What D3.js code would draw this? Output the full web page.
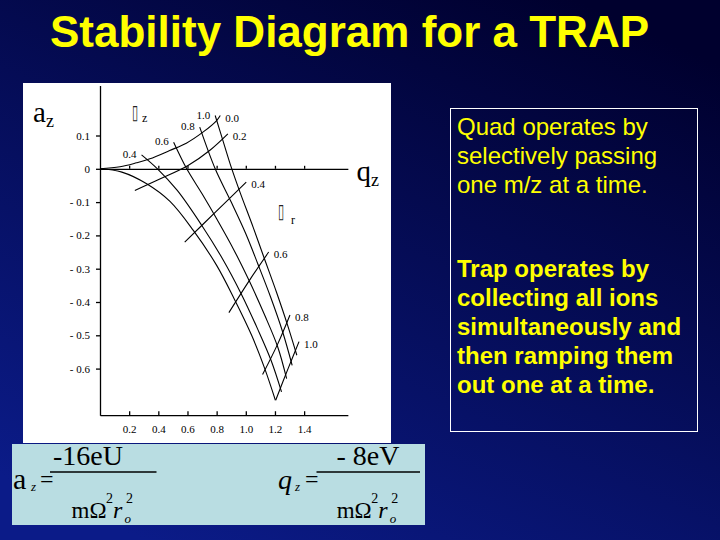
<!DOCTYPE html>
<html><head><meta charset="utf-8">
<script src="https://cdn.jsdelivr.net/npm/d3@7"></script>
<style>html,body{margin:0;padding:0;background:#000033;} svg{display:block}</style>
</head><body><svg id="c" width="720" height="540"></svg>
<script>
// ---- data ----
const titleText = "Stability Diagram for a TRAP";
const qTicks = [0.2, 0.4, 0.6, 0.8, 1.0, 1.2, 1.4];
const qTickLabels = ["0.2", "0.4", "0.6", "0.8", "1.0", "1.2", "1.4"];
const aTicks = [0.1, 0, -0.1, -0.2, -0.3, -0.4, -0.5, -0.6];
const aTickLabels = ["0.1", "0", "- 0.1", "- 0.2", "- 0.3", "- 0.4", "- 0.5", "- 0.6"];

// iso-beta_z lines [qz, az]
const betaZ00 = [[0,0],[0.15,-0.01],[0.32,-0.045],[0.48,-0.098],[0.64,-0.185],[0.80,-0.29],[0.92,-0.39],[1.04,-0.50],[1.13,-0.6],[1.203,-0.695]];
const betaZ04 = [[0.285,0.042],[0.394,0],[0.53,-0.065],[0.695,-0.168],[0.84,-0.27],[0.968,-0.375],[1.08,-0.48],[1.173,-0.575],[1.245,-0.67]];
const betaZ06 = [[0.505,0.08],[0.595,0],[0.70,-0.075],[0.80,-0.15],[0.92,-0.245],[1.025,-0.338],[1.13,-0.44],[1.219,-0.535],[1.28,-0.63]];
const betaZ08 = [[0.684,0.125],[0.79,0],[0.90,-0.10],[1.0,-0.195],[1.082,-0.285],[1.17,-0.385],[1.253,-0.49],[1.318,-0.59]];
const betaZ10 = [[0.79,0.16],[0.85,0.075],[0.90,0.005],[0.96,-0.07],[1.05,-0.175],[1.121,-0.262],[1.21,-0.37],[1.287,-0.47],[1.35,-0.56]];
const betaZLabels = ["", "0.4", "0.6", "0.8", "1.0"];

// iso-beta_r lines [qz, az]
const betaR00 = [[0,0],[0.137,0.006],[0.25,0.018],[0.342,0.030],[0.478,0.055],[0.592,0.077],[0.706,0.110],[0.80,0.145],[0.825,0.16]];
const betaR02 = [[0.239,-0.065],[0.399,-0.033],[0.604,0.010],[0.752,0.055],[0.877,0.105]];
const betaR04 = [[0.581,-0.220],[0.797,-0.128],[1.003,-0.040]];
const betaR06 = [[0.884,-0.432],[1.025,-0.335],[1.157,-0.250]];
const betaR08 = [[1.115,-0.618],[1.22,-0.525],[1.303,-0.439]];
const betaR10 = [[1.205,-0.695],[1.29,-0.60],[1.365,-0.519]];
const betaRLabels = ["0.0", "0.2", "0.4", "0.6", "0.8", "1.0"];

const quadLines = ["Quad operates by", "selectively passing", "one m/z at a time."];
const trapLines = ["Trap operates by", "collecting all ions", "simultaneously and", "then ramping them", "out one at a time."];

// ---- drawing ----
const svg = d3.select("#c");
const defs = svg.append("defs");
const grad = defs.append("linearGradient").attr("id","bg").attr("x1",0.8).attr("y1",0).attr("x2",0.2).attr("y2",1);
grad.append("stop").attr("offset","0%").attr("stop-color","#00002e");
grad.append("stop").attr("offset","100%").attr("stop-color","#0b1b88");
svg.append("rect").attr("width",720).attr("height",540).attr("fill","url(#bg)");

svg.append("text").attr("x",50).attr("y",47).text(titleText)
  .attr("font-family","Liberation Sans, Arial, sans-serif").attr("font-weight","bold")
  .attr("font-size",44).attr("fill","#ffff00");

// panels
svg.append("rect").attr("x",23).attr("y",83).attr("width",368).attr("height",360).attr("fill","#ffffff");
svg.append("rect").attr("x",12).attr("y",444).attr("width",413).attr("height",81).attr("fill","#b9dde2");

const x = d3.scaleLinear().domain([0, 1.7]).range([100, 100 + 145.8*1.7]);
const y = d3.scaleLinear().domain([0.25, -0.74]).range([168.8 - 0.25*333, 168.8 + 0.74*333]);

const serif = "Liberation Serif, Times New Roman, serif";
const plot = svg.append("g");

// left axis
const yAxis = d3.axisLeft(y).tickValues(aTicks).tickSizeInner(4).tickSizeOuter(0).tickPadding(6)
  .tickFormat((d,i)=>aTickLabels[i]);
const gy = plot.append("g").attr("transform",`translate(${x(0)},0)`).call(yAxis);
gy.selectAll("text").attr("font-family",serif).attr("font-size",11).attr("fill","#000");
gy.selectAll("line,path").attr("stroke","#000").attr("stroke-width",1.3);

// bottom axis
const xAxis = d3.axisBottom(x).tickValues(qTicks).tickSizeInner(-4).tickSizeOuter(0).tickPadding(10)
  .tickFormat((d,i)=>qTickLabels[i]);
const gx = plot.append("g").attr("transform",`translate(0,${y(-0.74)})`).call(xAxis);
gx.selectAll("text").attr("font-family",serif).attr("font-size",11).attr("fill","#000");
gx.selectAll("line,path").attr("stroke","#000").attr("stroke-width",1.3);

// q axis at a = 0
const zAxis = d3.axisBottom(x).tickValues(qTicks).tickSizeInner(-3).tickSizeOuter(0).tickFormat("");
const gz = plot.append("g").attr("transform",`translate(0,${y(0)})`).call(zAxis);
gz.selectAll("line,path").attr("stroke","#000").attr("stroke-width",1.3);

// curves
const line = d3.line().x(d=>x(d[0])).y(d=>y(d[1])).curve(d3.curveCatmullRom.alpha(0.5));
const zSet = [betaZ00, betaZ04, betaZ06, betaZ08, betaZ10];
const rSet = [betaR00, betaR02, betaR04, betaR06, betaR08, betaR10];
plot.append("g").selectAll("path").data(zSet.concat(rSet)).join("path")
  .attr("d", line).attr("fill","none").attr("stroke","#000").attr("stroke-width",1.1);

// beta labels
plot.append("g").selectAll("text").data(zSet).join("text")
  .attr("x", d=>x(d[0][0]) - 5).attr("y", d=>y(d[0][1]) + 3)
  .attr("text-anchor","end").attr("font-family",serif).attr("font-size",11)
  .text((d,i)=>betaZLabels[i]);
plot.append("g").selectAll("text").data(rSet).join("text")
  .attr("x", d=>x(d[d.length-1][0]) + 5).attr("y", d=>y(d[d.length-1][1]) + 6)
  .attr("font-family",serif).attr("font-size",11)
  .text((d,i)=>betaRLabels[i]);

// axis names
const az = plot.append("text").attr("x",33).attr("y",121.5).attr("font-family",serif).attr("font-size",29).text("a");
az.append("tspan").attr("font-size",18).attr("dy",5).text("z");
const qz = plot.append("text").attr("x",356.5).attr("y",181).attr("font-family",serif).attr("font-size",29).text("q");
qz.append("tspan").attr("font-size",18).attr("dy",5).text("z");

// beta symbols (rendered as missing-glyph boxes in the original)
plot.append("text").attr("transform","translate(132,119) scale(0.75,1.35)").attr("font-family","DejaVu Sans").attr("font-size",15).attr("fill","#222").text("\u25AF");
plot.append("text").attr("x",142).attr("y",122).attr("font-family",serif).attr("font-size",12).text("z");
plot.append("text").attr("transform","translate(278,218) scale(0.75,1.35)").attr("font-family","DejaVu Sans").attr("font-size",15).attr("fill","#222").text("\u25AF");
plot.append("text").attr("x",291).attr("y",224).attr("font-family",serif).attr("font-size",12).text("r");

// formulas
function formula(g, x0, sym, symItalic, num, numX, barX1, barX2, denX) {
  g.append("text").attr("x",x0).attr("y",489).attr("font-family",serif).attr("font-size",symItalic?28:30)
    .attr("font-style",symItalic?"italic":"normal").text(sym);
  g.append("text").attr("x",x0+(symItalic?17:18)).attr("y",491).attr("font-family",serif).attr("font-size",13)
    .attr("font-style","italic").text("z");
  g.append("text").attr("x",x0+27).attr("y",487).attr("font-family",serif).attr("font-size",24).text("=");
  g.append("text").attr("x",numX).attr("y",465).attr("font-family",serif).attr("font-size",28).text(num);
  g.append("line").attr("x1",barX1).attr("x2",barX2).attr("y1",472).attr("y2",472).attr("stroke","#000").attr("stroke-width",1.3);
  g.append("text").attr("x",denX).attr("y",517.5).attr("font-family",serif).attr("font-size",23).text("m\u03A9");
  g.append("text").attr("x",denX+34.5).attr("y",503).attr("font-family",serif).attr("font-size",14).text("2");
  g.append("text").attr("x",denX+41.5).attr("y",517.5).attr("font-family",serif).attr("font-size",24).attr("font-style","italic").text("r");
  g.append("text").attr("x",denX+54.5).attr("y",503).attr("font-family",serif).attr("font-size",14).text("2");
  g.append("text").attr("x",denX+53).attr("y",523).attr("font-family",serif).attr("font-size",13).attr("font-style","italic").text("o");
}
const fg = svg.append("g").attr("fill","#000");
formula(fg, 13, "a", false, "-16eU", 53, 50, 156.5, 71.5);
formula(fg, 278, "q", true, "- 8eV", 336.5, 316.5, 420, 336.7);

// right text box
svg.append("rect").attr("x",450.5).attr("y",108.5).attr("width",247).attr("height",323)
  .attr("fill","none").attr("stroke","#ffffff").attr("stroke-width",1);
svg.append("g").selectAll("text").data(quadLines).join("text")
  .attr("x",457).attr("y",(d,i)=>135 + i*29).attr("font-family","Liberation Sans, Arial, sans-serif")
  .attr("font-size",24).attr("fill","#ffff00").text(d=>d);
svg.append("g").selectAll("text").data(trapLines).join("text")
  .attr("x",457).attr("y",(d,i)=>277 + i*29).attr("font-family","Liberation Sans, Arial, sans-serif")
  .attr("font-weight","bold").attr("font-size",24).attr("fill","#ffff00").text(d=>d);
</script></body></html>
